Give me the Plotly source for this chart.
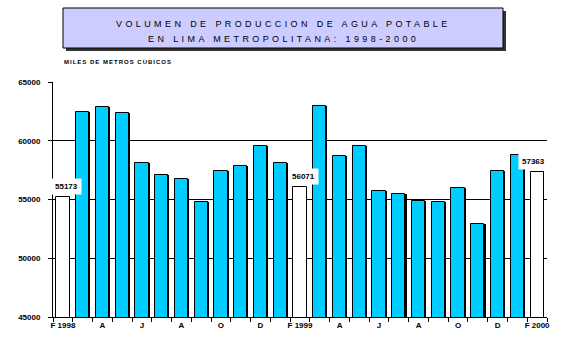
import plotly.graph_objects as go

# ---- data ----
month_labels = ["F 1998", "M", "A", "M", "J", "J", "A", "S", "O", "N", "D", "E",
                "F 1999", "M", "A", "M", "J", "J", "A", "S", "O", "N", "D", "E",
                "F 2000"]
volumes = [55173, 62470, 62890, 62380, 58130, 57110, 56770, 54810, 57450, 57810,
           59570, 58130, 56071, 62920, 58720, 59570, 55750, 55430, 54890, 54830,
           56000, 52940, 57450, 58750, 57363]
highlight_idx = [0, 12, 24]          # February bars shown in white with labels
shown_tick_idx = list(range(0, 25, 2))
y_ticks = [45000, 50000, 55000, 60000, 65000]
title_lines = ["VOLUMEN DE PRODUCCION DE AGUA POTABLE",
               "EN LIMA METROPOLITANA: 1998-2000"]
unit_label = "MILES DE METROS CUBICOS"

# ---- layout geometry (pixels) ----
W, H = 569, 348
L, R, T, B = 53, 547, 82, 317


def px_x(x):
    return (x - L) / (R - L)


def px_y(y):
    return (B - y) / (B - T)


x = list(range(1, len(volumes) + 1))
BLUE = "#00CCFF"
colors = ["white" if i in highlight_idx else BLUE for i in range(len(volumes))]
shadow_colors = ["rgba(0,0,0,0)" if i in highlight_idx else "black" for i in range(len(volumes))]

bw = 0.67
fig = go.Figure()
fig.add_trace(go.Bar(x=x, y=volumes, width=bw, offset=-bw / 2 + 0.055,
                     marker=dict(color=shadow_colors, line=dict(width=0)),
                     hoverinfo="skip", showlegend=False))
fig.add_trace(go.Bar(x=x, y=volumes, width=bw, offset=-bw / 2,
                     marker=dict(color=colors, line=dict(color="black", width=1)),
                     showlegend=False))

# value labels
shifts = {0: 4, 12: 3, 24: -4}
for i in highlight_idx:
    fig.add_annotation(x=x[i], y=volumes[i], xref="x", yref="y",
                       text=f"<b>{volumes[i]}</b>", showarrow=False,
                       yanchor="bottom", yshift=2, xshift=shifts[i],
                       bgcolor="white", borderpad=3,
                       font=dict(family="Liberation Sans", size=8, color="black"))

# title box with shadow
bx0, by0, bx1, by1 = 63, 8, 503, 48
fig.add_shape(type="rect", xref="paper", yref="paper",
              x0=px_x(bx0 + 3), x1=px_x(bx1 + 3), y0=px_y(by1 + 3), y1=px_y(by0 + 3),
              fillcolor="#333333", line=dict(width=0), layer="above")
fig.add_shape(type="rect", xref="paper", yref="paper",
              x0=px_x(bx0), x1=px_x(bx1), y0=px_y(by1), y1=px_y(by0),
              fillcolor="#CCCCFF", line=dict(color="black", width=1), layer="above")
for k, line in enumerate(title_lines):
    fig.add_annotation(x=px_x((bx0 + bx1) / 2), y=px_y(23.5 + 15 * k), xref="paper", yref="paper",
                       text=f'<span style="letter-spacing:3.4px">{line}</span>',
                       showarrow=False, xanchor="center", yanchor="middle",
                       font=dict(family="Liberation Sans", size=9, color="black"))

fig.add_annotation(x=px_x(62), y=px_y(62), xref="paper", yref="paper",
                   text=f'<b><span style="letter-spacing:1px">{unit_label}</span></b>',
                   showarrow=False, xanchor="left", yanchor="middle",
                   font=dict(family="Liberation Sans", size=6, color="black"))

fig.update_layout(
    width=W, height=H,
    margin=dict(l=L, r=W - R, t=T, b=H - B, pad=0),
    paper_bgcolor="white", plot_bgcolor="white",
    barmode="overlay", bargap=0,
    font=dict(family="Liberation Sans", size=8, color="black"),
)
fig.update_xaxes(range=[0.5, len(volumes) + 0.5],
                 tickvals=[x[i] for i in shown_tick_idx],
                 ticktext=[f"<b>{month_labels[i]}</b>" for i in shown_tick_idx],
                 ticks="", showgrid=False, zeroline=False,
                 showline=True, linecolor="black", linewidth=1,
                 minor=dict(ticks="outside", tick0=0.5, dtick=1, ticklen=4,
                            tickcolor="black", tickwidth=1, showgrid=False),
                 tickfont=dict(size=8), fixedrange=True)
fig.update_yaxes(range=[45000, 65000], tickvals=y_ticks,
                 ticktext=[f"<b>{v}</b>" for v in y_ticks],
                 ticks="outside", ticklen=4, tickcolor="black", tickwidth=1,
                 showgrid=True, gridcolor="black", gridwidth=1,
                 zeroline=False, showline=True, linecolor="black", linewidth=1,
                 tickfont=dict(size=8), ticklabelstandoff=6, fixedrange=True)

fig.write_html("out.html")
